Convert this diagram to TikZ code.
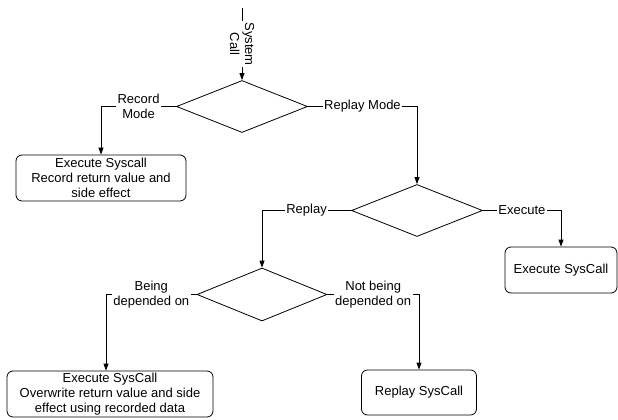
\documentclass[tikz,border=0pt]{standalone}
\usepackage{fontspec}
\setmainfont{Liberation Sans}
\usetikzlibrary{shapes.geometric, arrows.meta}
\tikzset{
	decision/.style={draw, diamond, inner sep=0pt, minimum width=131pt, minimum height=52pt},
	process/.style={draw, rounded corners=6pt, minimum height=46pt, align=center, inner sep=1pt},
	lbl/.style={fill=white, align=center, inner sep=1.5pt},
	flow/.style={-{Triangle[length=7pt,width=5pt]}}
}
\begin{document}
\begin{tikzpicture}[x=1pt,y=-1pt,font=\fontsize{13}{15}\selectfont,line width=0.8pt]
	\useasboundingbox (0,0) rectangle (618,420);
	\coordinate (start) at (242,8);
	% decisions
	\node[decision] (mode) at (242,106.5) {};
	\node[decision] (act) at (417,210.5) {};
	\node[decision, minimum width=130pt, minimum height=53pt] (dep) at (262,294.5) {};
	% boxes
	\node[process, minimum width=170pt] (rec) at (101,178) {Execute Syscall\\Record return value and\\side effect};
	\node[process, minimum width=112pt] (exec) at (561,270) {Execute SysCall};
	\node[process, minimum width=206pt] (over) at (110,394) {Execute SysCall\\Overwrite return value and side\\effect using recorded data};
	\node[process, minimum width=115pt, minimum height=45pt] (replay) at (419,392.5) {Replay SysCall};
	% connectors
	\draw[flow] (start) -- node[lbl, rotate=-90]{System\\Call} (mode.north);
	\draw[flow] (mode.west) -| node[lbl, pos=0.25]{Record\\Mode} (rec.north);
	\draw[flow] (mode.east) -| node[lbl, pos=0.25]{Replay Mode} (act.north);
	\draw[flow] (act.west) -| node[lbl, pos=0.25]{Replay} (dep.north);
	\draw[flow] (act.east) -| node[lbl, pos=0.25]{Execute} (exec.north);
	\draw[flow] (dep.west) -| node[lbl, pos=0.25]{Being\\depended on} ([xshift=-4pt]over.north);
	\draw[flow] (dep.east) -| node[lbl, pos=0.25]{Not being\\depended on} (replay.north);
\end{tikzpicture}
\end{document}
